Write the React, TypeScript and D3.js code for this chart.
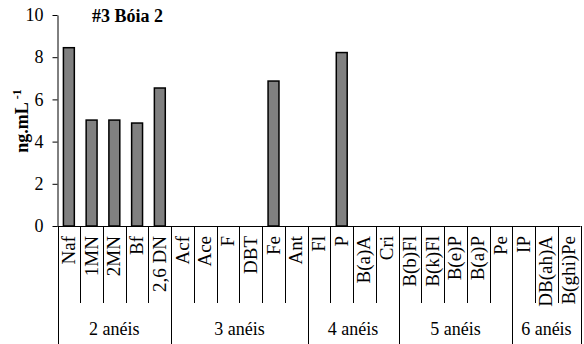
import React, { useRef, useEffect } from "react";
import * as d3 from "d3";

const categories = [
  "Naf", "1MN", "2MN", "Bf", "2,6 DN",
  "Acf", "Ace", "F", "DBT", "Fe", "Ant",
  "Fl", "P", "B(a)A", "Cri",
  "B(b)Fl", "B(k)Fl", "B(e)P", "B(a)P", "Pe",
  "IP", "DB(ah)A", "B(ghi)Pe",
];
const values = [
  8.45, 5.02, 5.02, 4.88, 6.54,
  0, 0, 0, 0, 6.87, 0,
  0, 8.22, 0, 0,
  0, 0, 0, 0, 0,
  0, 0, 0,
];
const groups = ["2 anéis", "3 anéis", "4 anéis", "5 anéis", "6 anéis"];
const groupSizes = [5, 6, 4, 5, 3];
const yTicks = [0, 2, 4, 6, 8, 10];
const title = "#3 Bóia 2";

const FONT = "Liberation Serif";

const App = () => {
  const ref = useRef<HTMLDivElement>(null);

  useEffect(() => {
    const width = 584;
    const height = 344;
    const left = 57.5;
    const right = 580.5;
    const top = 15;
    const axisY = 226;

    const x = d3.scaleBand<string>()
      .domain(categories)
      .range([left, right])
      .padding(0);

    const y = d3.scaleLinear()
      .domain([0, 10])
      .range([axisY, top]);

    const svg = d3.create("svg")
      .attr("width", width)
      .attr("height", height)
      .attr("viewBox", [0, 0, width, height].join(" "))
      .attr("font-family", FONT)
      .style("display", "block");

    svg.append("rect").attr("width", width).attr("height", height).attr("fill", "white");

    // bars
    const bw = x.bandwidth() * 0.48;
    svg.append("g")
      .selectAll("rect")
      .data(categories.map((c, i) => ({ c, v: values[i] })).filter(d => d.v > 0))
      .join("rect")
      .attr("x", d => x(d.c)! + (x.bandwidth() - bw) / 2)
      .attr("y", d => y(d.v))
      .attr("width", bw)
      .attr("height", d => y(0) - y(d.v))
      .attr("fill", "#808080")
      .attr("stroke", "black")
      .attr("stroke-width", 1.5);

    // y axis
    svg.append("g")
      .attr("transform", `translate(${left},0)`)
      .call(d3.axisLeft(y).tickValues(yTicks).tickSize(5).tickSizeOuter(0).tickPadding(9))
      .attr("font-family", FONT)
      .attr("font-size", 18)
      .call(g => g.selectAll("text").attr("fill", "black"))
      .call(g => g.selectAll("line,path").attr("stroke", "black"));

    // x axis line
    svg.append("line")
      .attr("x1", left).attr("x2", right)
      .attr("y1", axisY + 0.5).attr("y2", axisY + 0.5)
      .attr("stroke", "black");

    // category separators and labels
    const starts = d3.cumsum([0, ...groupSizes]);
    const boundaries = new Set(Array.from(starts));
    categories.forEach((c, i) => {
      const x0 = Math.round(x(c)!) + 0.5;
      if (!boundaries.has(i)) {
        svg.append("line")
          .attr("x1", x0).attr("x2", x0)
          .attr("y1", axisY).attr("y2", 303)
          .attr("stroke", "black");
      }
      svg.append("text")
        .attr("transform", `translate(${x(c)! + x.bandwidth() / 2 + 6},${axisY + 10}) rotate(-90)`)
        .attr("text-anchor", "end")
        .attr("font-family", FONT)
        .attr("font-size", 19)
        .text(c);
    });

    // group separators and labels
    Array.from(starts).forEach((s, i) => {
      const xs = s < categories.length ? x(categories[s])! : right;
      const x0 = Math.round(xs) + 0.5;
      svg.append("line")
        .attr("x1", x0).attr("x2", x0)
        .attr("y1", axisY).attr("y2", height)
        .attr("stroke", "black");
      if (i < groups.length) {
        const xe = starts[i + 1] < categories.length ? x(categories[starts[i + 1]])! : right;
        svg.append("text")
          .attr("x", (xs + xe) / 2)
          .attr("y", 335)
          .attr("text-anchor", "middle")
          .attr("font-family", FONT)
          .attr("font-size", 18)
          .text(groups[i]);
      }
    });

    // title
    svg.append("text")
      .attr("x", 92)
      .attr("y", 22)
      .attr("font-family", FONT)
      .attr("font-size", 18)
      .attr("font-weight", "bold")
      .text(title);

    // y title
    const yt = svg.append("text")
      .attr("transform", `translate(28,121) rotate(-90)`)
      .attr("text-anchor", "middle")
      .attr("font-family", FONT)
      .attr("font-size", 18)
      .attr("font-weight", "bold");
    yt.append("tspan").text("ng.mL");
    yt.append("tspan").attr("dy", -7).attr("font-size", 12).text(" -1");

    ref.current!.innerHTML = "";
    ref.current!.appendChild(svg.node()!);
  }, []);

  return <div ref={ref} style={{ position: "absolute", left: 0, top: 0 }} />;
};

export default App;
